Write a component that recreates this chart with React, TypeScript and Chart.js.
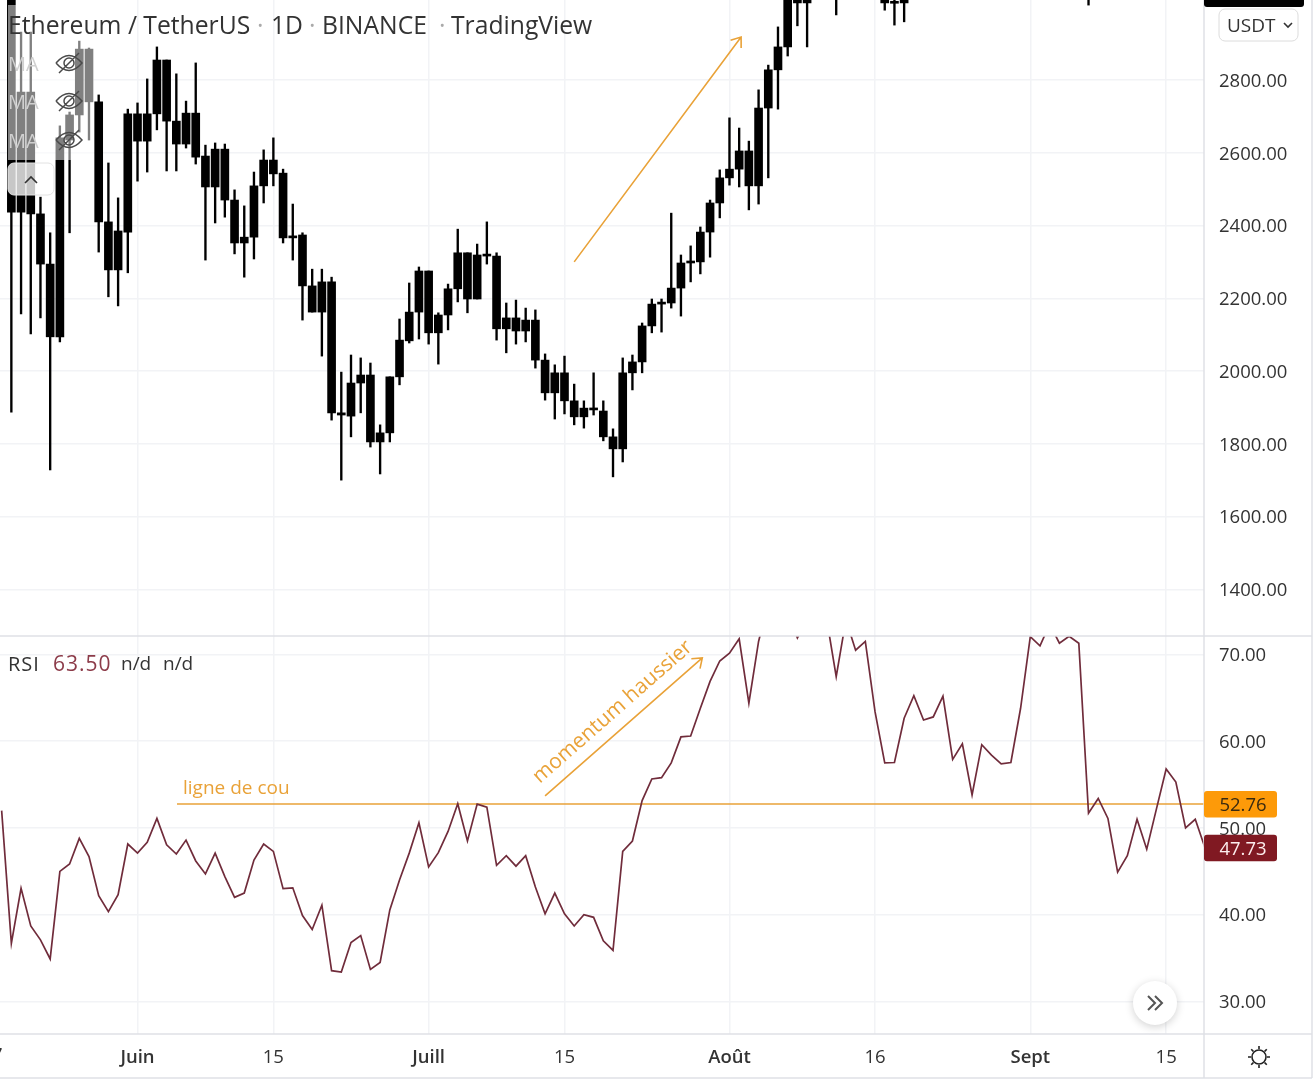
import { useEffect, useRef } from "react";
import { Chart, registerables } from "chart.js";

Chart.register(...registerables);

// x axis is "days since 1 June"
const xTickDays = [0, 14, 30, 44, 61, 76, 92, 106];
const xTickLabels = ["Juin", "15", "Juill", "15", "Août", "16", "Sept", "15"];
const monthLabels = ["Juin", "Juill", "Août", "Sept"];
const priceTicks = [1400, 1600, 1800, 2000, 2200, 2400, 2600, 2800];
const rsiTicks = [30, 40, 50, 60, 70];

const candleDays = [
  -13, -12, -11, -10, -9, -8, -7, -6, -5, -4,
  -3, -2, -1, 0, 1, 2, 3, 4, 5, 6,
  7, 8, 9, 10, 11, 12, 13, 14, 15, 16,
  17, 18, 19, 20, 21, 22, 23, 24, 25, 26,
  27, 28, 29, 30, 31, 32, 33, 34, 35, 36,
  37, 38, 39, 40, 41, 42, 43, 44, 45, 46,
  47, 48, 49, 50, 51, 52, 53, 54, 55, 56,
  57, 58, 59, 60, 61, 62, 63, 64, 65, 66,
  67, 68, 69, 72, 77, 78, 79, 98,
];
const bodyHigh = [
  3034, 2767, 2767, 2432, 2294, 2641, 2704, 2885, 2885, 2740,
  2410, 2385, 2707, 2707, 2707, 2855, 2855, 2687, 2709, 2709,
  2591, 2610, 2610, 2470, 2368, 2509, 2580, 2580, 2544, 2371,
  2374, 2234, 2245, 2245, 1885, 1967, 1989, 1989, 1830, 1984,
  2085, 2162, 2275, 2275, 2154, 2226, 2325, 2325, 2319, 2319,
  2316, 2146, 2146, 2140, 2140, 2030, 1995, 1995, 1918, 1898,
  1898, 1890, 1819, 1995, 2025, 2124, 2184, 2187, 2228, 2297,
  2300, 2382, 2462, 2531, 2555, 2605, 2605, 2723, 2828, 2891,
  3025, 3040, 3040, 3060, 3040, 3014, 3040, 3060,
];
const bodyLow = [
  2437, 2437, 2432, 2294, 2094, 2094, 2635, 2704, 2740, 2410,
  2278, 2278, 2382, 2632, 2632, 2707, 2687, 2624, 2624, 2588,
  2506, 2506, 2470, 2352, 2352, 2368, 2509, 2542, 2366, 2366,
  2234, 2162, 2162, 1885, 1879, 1876, 1967, 1805, 1805, 1830,
  1984, 2083, 2162, 2105, 2105, 2154, 2226, 2198, 2198, 2316,
  2116, 2116, 2110, 2110, 2030, 1940, 1940, 1918, 1874, 1874,
  1893, 1819, 1786, 1786, 1995, 2025, 2124, 2184, 2187, 2228,
  2297, 2300, 2382, 2462, 2531, 2555, 2509, 2509, 2723, 2828,
  2891, 3012, 3012, 3040, 3012, 3011, 3012, 3040,
];
const wickHigh = [
  3047, 2932, 2932, 2478, 2380, 2674, 2712, 2907, 2888, 2759,
  2572, 2476, 2720, 2737, 2803, 2891, 2855, 2817, 2742, 2847,
  2621, 2627, 2624, 2498, 2454, 2547, 2608, 2641, 2555, 2459,
  2380, 2280, 2280, 2258, 1997, 2044, 2036, 2022, 1852, 1984,
  2143, 2242, 2286, 2275, 2160, 2239, 2390, 2325, 2349, 2410,
  2325, 2187, 2195, 2173, 2168, 2047, 2017, 2041, 1964, 1918,
  1995, 1918, 1841, 2036, 2044, 2132, 2198, 2198, 2434, 2319,
  2344, 2396, 2470, 2553, 2696, 2668, 2632, 2773, 2841, 2946,
  3036, 3050, 3050, 3070, 3050, 3040, 3050, 3070,
];
const wickLow = [
  1887, 2157, 2102, 2146, 1728, 2080, 2380, 2657, 2635, 2327,
  2204, 2179, 2270, 2522, 2547, 2663, 2550, 2550, 2613, 2569,
  2305, 2407, 2423, 2322, 2258, 2308, 2462, 2509, 2352, 2305,
  2140, 2162, 2041, 1865, 1700, 1819, 1885, 1791, 1717, 1805,
  1962, 2077, 2088, 2074, 2019, 2113, 2190, 2160, 2198, 2294,
  2085, 2050, 2074, 2080, 2008, 1920, 1868, 1882, 1852, 1843,
  1879, 1808, 1709, 1750, 1948, 1995, 2105, 2107, 2173, 2151,
  2245, 2267, 2313, 2421, 2511, 2506, 2443, 2459, 2531, 2720,
  2866, 2949, 2891, 2979, 2992, 2951, 2960, 3006,
];

// one value a day, starting at day -14
const rsiFirstDay = -14;
const rsiValues = [
  52.0, 36.7, 43.05, 38.7, 37.1, 34.9, 45.0, 45.85, 48.8, 46.7,
  42.2, 40.35, 42.3, 48.15, 47.1, 48.35, 51.1, 48.05, 47.0, 48.6,
  46.2, 44.7, 47.1, 44.4, 42.0, 42.5, 46.3, 48.15, 47.3, 43.0,
  43.1, 39.9, 38.3, 41.1, 33.55, 33.4, 36.8, 37.6, 33.7, 34.5,
  40.55, 44.0, 47.1, 50.6, 45.5, 47.15, 49.6, 52.8, 48.5, 52.75,
  52.4, 45.7, 46.8, 45.6, 46.8, 43.2, 40.1, 42.5, 40.1, 38.7,
  40.0, 39.7, 37.0, 35.9, 47.3, 48.5, 53.15, 55.65, 55.8, 57.5,
  60.5, 60.6, 63.8, 66.9, 69.25, 70.15, 71.8, 64.4, 71.5, 76,
  77, 75, 71.9, 74, 76, 74.2, 67.45, 74, 70.5, 71.5,
  63.4, 57.5, 57.55, 62.65, 65.25, 62.45, 62.8, 65.2, 57.9, 59.7,
  53.8, 59.6, 58.4, 57.4, 57.55, 63.8, 72.05, 71.0, 73.5, 71.3,
  72.1, 71.3, 51.7, 53.4, 51.1, 44.9, 46.8, 51.0, 47.55, 52.2,
  56.8, 55.3, 50.0, 51.0, 47.73,
];

const necklineValue = 52.76;
const necklineDays = [4.07, 110];
const lastRsi = 47.73;

const TEXT = "#333333";
const GRID = "#f2f3f6";
const EDGE = "#dfe1e6";
const ORANGE = "#e9a238";
const MAROON = "#702c3b";
const FONT = '"Open Sans", sans-serif';

const roundRect = (
  ctx: CanvasRenderingContext2D,
  x: number,
  y: number,
  w: number,
  h: number,
  r: number,
) => {
  ctx.beginPath();
  ctx.roundRect(x, y, w, h, r);
};

const drawArrow = (
  ctx: CanvasRenderingContext2D,
  x0: number,
  y0: number,
  x1: number,
  y1: number,
) => {
  const angle = Math.atan2(y1 - y0, x1 - x0);
  ctx.strokeStyle = ORANGE;
  ctx.lineWidth = 1.6;
  ctx.beginPath();
  ctx.moveTo(x0, y0);
  ctx.lineTo(x1, y1);
  ctx.moveTo(x1 + 11 * Math.cos(angle + 2.5), y1 + 11 * Math.sin(angle + 2.5));
  ctx.lineTo(x1, y1);
  ctx.lineTo(x1 + 11 * Math.cos(angle - 2.5), y1 + 11 * Math.sin(angle - 2.5));
  ctx.stroke();
};

const drawEye = (ctx: CanvasRenderingContext2D, cx: number, cy: number) => {
  ctx.strokeStyle = "#4a4a4a";
  ctx.lineWidth = 1.5;
  ctx.beginPath();
  ctx.moveTo(cx - 13, cy);
  ctx.quadraticCurveTo(cx, cy - 15, cx + 13, cy);
  ctx.quadraticCurveTo(cx, cy + 15, cx - 13, cy);
  ctx.moveTo(cx + 5, cy);
  ctx.arc(cx, cy, 5, 0, Math.PI * 2);
  ctx.moveTo(cx - 10, cy + 10);
  ctx.lineTo(cx + 10, cy - 10);
  ctx.stroke();
};

const decorPlugin = {
  id: "decor",
  // Open Sans sits high on a "middle" baseline, so nudge the y axis labels down
  beforeDraw(chart: any) {
    [chart.scales.price, chart.scales.rsi].forEach((scale: any) => {
      scale.getLabelItems().forEach((item: any) => {
        item.options.translation[1] += 1.5;
      });
    });
  },
  afterDraw(chart: any) {
    const ctx: CanvasRenderingContext2D = chart.ctx;
    const { x, price, rsi } = chart.scales;
    ctx.save();

    // pane edges
    ctx.strokeStyle = EDGE;
    ctx.lineWidth = 1.5;
    ctx.beginPath();
    ctx.moveTo(0, 636);
    ctx.lineTo(1312, 636);
    ctx.moveTo(0, 1034);
    ctx.lineTo(1312, 1034);
    ctx.moveTo(1204, 0);
    ctx.lineTo(1204, 1078);
    ctx.moveTo(0, 1078);
    ctx.lineTo(1312, 1078);
    ctx.moveTo(1312, 0);
    ctx.lineTo(1312, 1078);
    ctx.stroke();

    // annotations sit on the scales
    drawArrow(
      ctx,
      x.getPixelForValue(45),
      price.getPixelForValue(2300),
      x.getPixelForValue(62.2),
      price.getPixelForValue(2918),
    );
    drawArrow(
      ctx,
      x.getPixelForValue(42),
      rsi.getPixelForValue(53.7),
      x.getPixelForValue(58.2),
      rsi.getPixelForValue(69.6),
    );

    ctx.textBaseline = "middle";
    ctx.textAlign = "left";
    ctx.fillStyle = ORANGE;
    ctx.font = `19px ${FONT}`;
    ctx.fillText("ligne de cou", 183, 789);
    ctx.save();
    ctx.translate(x.getPixelForValue(41.6), rsi.getPixelForValue(54.9));
    ctx.rotate((-41.3 * Math.PI) / 180);
    ctx.font = `21px ${FONT}`;
    ctx.fillText("momentum haussier", 0, -8);
    ctx.restore();

    // legend block over the candles
    ctx.fillStyle = "rgba(255,255,255,0.5)";
    ctx.fillRect(8, 5, 86, 155);
    ctx.fillStyle = "rgba(255,255,255,0.78)";
    roundRect(ctx, 8, 163, 46, 32, 6);
    ctx.fill();
    ctx.strokeStyle = "#e2e2e2";
    ctx.lineWidth = 1;
    ctx.stroke();
    ctx.strokeStyle = "#333";
    ctx.lineWidth = 1.6;
    ctx.beginPath();
    ctx.moveTo(25, 183);
    ctx.lineTo(31, 177);
    ctx.lineTo(37, 183);
    ctx.stroke();

    ctx.fillStyle = TEXT;
    ctx.font = `24.7px ${FONT}`;
    ctx.fillText("Ethereum / TetherUS", 8, 27);
    ctx.fillText("1D", 271, 27);
    ctx.fillText("BINANCE", 322, 27);
    ctx.fillText("TradingView", 451, 27);
    ctx.fillStyle = "#aaa";
    ctx.fillText("·", 257, 27);
    ctx.fillText("·", 309, 27);
    ctx.fillText("·", 439, 27);

    ctx.font = `20px ${FONT}`;
    ctx.fillStyle = "#d0d0d0";
    [65, 103, 142].forEach((y) => ctx.fillText("MA", 8, y));
    [63, 101, 140].forEach((y) => drawEye(ctx, 69, y));

    // RSI legend
    ctx.font = `20px ${FONT}`;
    ctx.fillStyle = TEXT;
    (ctx as any).letterSpacing = "1px";
    ctx.fillText("RSI", 8, 665);
    ctx.fillStyle = "#8c3b49";
    ctx.font = `21px ${FONT}`;
    ctx.fillText("63.50", 53, 665);
    (ctx as any).letterSpacing = "0px";
    ctx.fillStyle = TEXT;
    ctx.font = `19px ${FONT}`;
    ctx.fillText("n/d", 121, 665);
    ctx.fillText("n/d", 163, 665);

    // left-over tick cut by the edge
    ctx.font = `18.5px ${FONT}`;
    ctx.textAlign = "center";
    ctx.fillText("17", x.getPixelForValue(-15), 1056);

    // last price tag and currency button
    ctx.fillStyle = "#000";
    roundRect(ctx, 1204, -10, 100, 17, 3);
    ctx.fill();
    ctx.fillStyle = "#fff";
    ctx.fillText("3071.97", 1254, -6);

    ctx.fillStyle = "#fff";
    roundRect(ctx, 1219, 9, 79, 32, 6);
    ctx.fill();
    ctx.strokeStyle = "#dcdcdc";
    ctx.lineWidth = 1;
    ctx.stroke();
    ctx.fillStyle = TEXT;
    ctx.textAlign = "left";
    ctx.font = `19px ${FONT}`;
    ctx.fillText("USDT", 1227, 26.5);
    ctx.strokeStyle = TEXT;
    ctx.lineWidth = 1.6;
    ctx.beginPath();
    ctx.moveTo(1284, 23);
    ctx.lineTo(1288, 27);
    ctx.lineTo(1292, 23);
    ctx.stroke();

    // value tags on the RSI scale
    ctx.textAlign = "center";
    ctx.font = `18.5px ${FONT}`;
    const tag = (value: number, bg: string, fg: string) => {
      const y = rsi.getPixelForValue(value);
      ctx.fillStyle = bg;
      roundRect(ctx, 1204, y - 13, 73, 26.5, 3);
      ctx.fill();
      ctx.fillStyle = fg;
      ctx.fillText(value.toFixed(2), 1243, y + 2);
    };
    tag(necklineValue, "#fd9a09", "#3a2a10");
    tag(lastRsi, "#801922", "#fdeeee");

    // scroll-to-latest button
    ctx.save();
    ctx.shadowColor = "rgba(0,0,0,0.18)";
    ctx.shadowBlur = 8;
    ctx.shadowOffsetY = 2;
    ctx.fillStyle = "#fff";
    ctx.beginPath();
    ctx.arc(1155, 1003, 22, 0, Math.PI * 2);
    ctx.fill();
    ctx.restore();
    ctx.strokeStyle = "#555";
    ctx.lineWidth = 2;
    ctx.beginPath();
    ctx.moveTo(1148, 996);
    ctx.lineTo(1155, 1003);
    ctx.lineTo(1148, 1010);
    ctx.moveTo(1155, 996);
    ctx.lineTo(1162, 1003);
    ctx.lineTo(1155, 1010);
    ctx.stroke();

    // settings sun
    ctx.strokeStyle = "#222";
    ctx.lineWidth = 1.6;
    ctx.beginPath();
    ctx.arc(1259, 1057, 7, 0, Math.PI * 2);
    for (let i = 0; i < 8; i++) {
      const a = (i * Math.PI) / 4;
      ctx.moveTo(1259 + 8 * Math.cos(a), 1057 + 8 * Math.sin(a));
      ctx.lineTo(1259 + 11 * Math.cos(a), 1057 + 11 * Math.sin(a));
    }
    ctx.stroke();

    ctx.restore();
  },
};

// labels may not push the panes in from the canvas edges
const noPadding = (scale: any) => {
  scale.paddingTop = 0;
  scale.paddingBottom = 0;
  scale.paddingLeft = 0;
  scale.paddingRight = 0;
};

const App = () => {
  const canvasRef = useRef<HTMLCanvasElement>(null);

  useEffect(() => {
    if (!canvasRef.current) return;
    document.body.style.margin = "0";
    document.body.style.background = "#fff";

    const ctx = canvasRef.current.getContext("2d");

    const myChart = new Chart(ctx!, {
      type: "bar",
      data: {
        datasets: [
          {
            label: "Wicks",
            data: candleDays.map((d, i) => ({ x: d, y: [wickLow[i], wickHigh[i]] })),
            backgroundColor: "#000",
            barThickness: 1.7,
            grouped: false,
            yAxisID: "price",
            order: 2,
          },
          {
            label: "Bodies",
            data: candleDays.map((d, i) => ({ x: d, y: [bodyLow[i], bodyHigh[i]] })),
            backgroundColor: "#000",
            barThickness: 8,
            grouped: false,
            minBarLength: 2,
            yAxisID: "price",
            order: 1,
          },
          {
            type: "line",
            label: "Ligne de cou",
            data: necklineDays.map((d) => ({ x: d, y: necklineValue })),
            borderColor: ORANGE,
            borderWidth: 1.6,
            pointRadius: 0,
            yAxisID: "rsi",
            order: 1,
          },
          {
            type: "line",
            label: "RSI",
            data: rsiValues.map((v, i) => ({ x: rsiFirstDay + i, y: v })),
            borderColor: MAROON,
            borderWidth: 1.7,
            pointRadius: 0,
            tension: 0,
            yAxisID: "rsi",
            order: 0,
          },
        ] as any,
      },
      options: {
        animation: false,
        responsive: false,
        devicePixelRatio: 1,
        layout: { padding: 0 },
        plugins: { legend: { display: false }, tooltip: { enabled: false } },
        scales: {
          x: {
            type: "linear",
            min: -14.17,
            max: 109.9,
            offset: false,
            afterFit: (scale: any) => {
              scale.height = 46;
              noPadding(scale);
            },
            afterBuildTicks: (scale: any) => {
              scale.ticks = xTickDays.map((value) => ({ value }));
            },
            border: { display: false },
            grid: { color: GRID, lineWidth: 1.5, drawTicks: false, offset: false },
            ticks: {
              autoSkip: false,
              maxRotation: 0,
              padding: 13,
              color: TEXT,
              font: (c: any) => ({
                family: FONT,
                size: 18.5,
                weight: monthLabels.includes(xTickLabels[c.index]) ? 600 : 400,
              }),
              callback: (_v: any, i: number) => xTickLabels[i],
            },
          },
          price: {
            type: "linear",
            position: "right",
            stack: "panes",
            stackWeight: 636,
            min: 1271.5,
            max: 3020,
            afterFit: (scale: any) => {
              scale.width = 112;
              noPadding(scale);
            },
            afterBuildTicks: (scale: any) => {
              scale.ticks = priceTicks.map((value) => ({ value }));
            },
            border: { display: false },
            grid: { color: GRID, lineWidth: 1.5, drawTicks: false },
            ticks: {
              padding: 15,
              color: TEXT,
              font: { family: FONT, size: 18.5 },
              callback: (v: any) => Number(v).toFixed(2),
            },
          },
          rsi: {
            type: "linear",
            position: "right",
            stack: "panes",
            stackWeight: 398,
            min: 26.25,
            max: 72.13,
            afterFit: (scale: any) => {
              scale.width = 112;
              noPadding(scale);
            },
            afterBuildTicks: (scale: any) => {
              scale.ticks = rsiTicks.map((value) => ({ value }));
            },
            border: { display: false },
            grid: { color: GRID, lineWidth: 1.5, drawTicks: false },
            ticks: {
              padding: 15,
              color: TEXT,
              font: { family: FONT, size: 18.5 },
              callback: (v: any) => Number(v).toFixed(2),
            },
          },
        },
      },
      plugins: [decorPlugin],
    } as any);

    return () => {
      myChart.destroy();
    };
  }, []);

  return <canvas ref={canvasRef} width={1316} height={1080} style={{ display: "block" }}></canvas>;
};

export default App;
